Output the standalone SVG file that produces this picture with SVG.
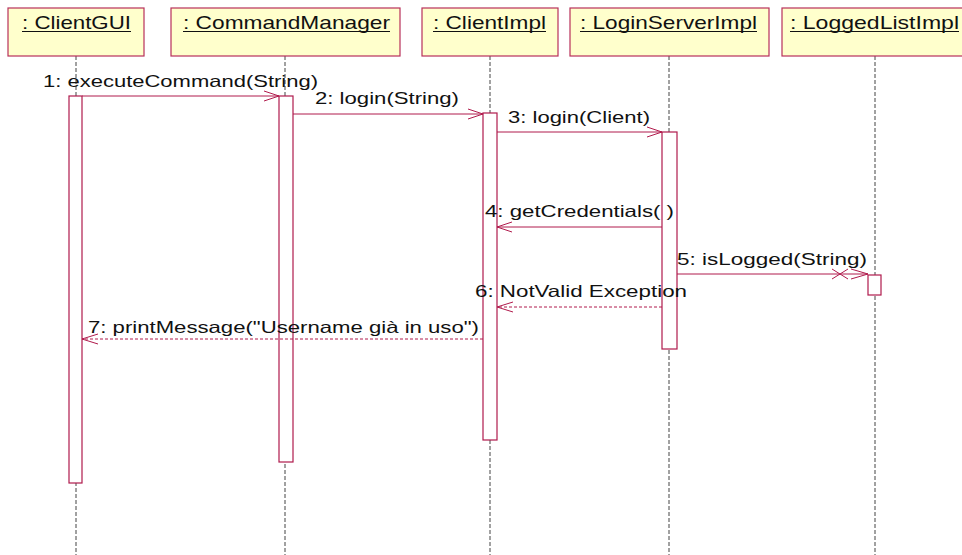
<svg xmlns="http://www.w3.org/2000/svg" width="962" height="555" viewBox="0 0 962 555">
  <style>
    .obj { fill: #FFFFCC; stroke: #B8305A; stroke-width: 1.2; }
    .oname { font-family: "Liberation Sans", Arial, sans-serif; font-size: 19px; fill: #111; }
    .uline { stroke: #111; stroke-width: 1; }
    .life { stroke: #444; stroke-width: 1; stroke-dasharray: 4 2; fill: none; }
    .act { fill: #FFFFFF; stroke: #B01A4C; stroke-width: 1.2; }
    .msg { stroke: #B01A4C; stroke-width: 1; fill: none; }
    .ret { stroke: #B01A4C; stroke-width: 1; fill: none; stroke-dasharray: 3 2; }
    .head { stroke: #B01A4C; stroke-width: 1; fill: none; }
    .mlabel { font-family: "Liberation Sans", Arial, sans-serif; font-size: 16.5px; fill: #111; }
  </style>

  <!-- lifelines -->
  <g id="lifelines">
    <line class="life" x1="76" y1="56" x2="76" y2="555"/>
    <line class="life" x1="285" y1="56" x2="285" y2="555"/>
    <line class="life" x1="490" y1="56" x2="490" y2="555"/>
    <line class="life" x1="669" y1="56" x2="669" y2="555"/>
    <line class="life" x1="875" y1="56" x2="875" y2="555"/>
  </g>

  <!-- objects -->
  <g id="clientgui">
    <rect class="obj" x="8" y="8" width="136" height="48"/>
    <text class="oname" x="22" y="29" textLength="109" lengthAdjust="spacingAndGlyphs">: ClientGUI</text>
    <line class="uline" x1="22" y1="31.5" x2="131" y2="31.5"/>
    <rect class="act" x="69" y="96" width="13" height="387"/>
  </g>
  <g id="commandmanager">
    <rect class="obj" x="171" y="8" width="229" height="48"/>
    <text class="oname" x="183" y="29" textLength="207" lengthAdjust="spacingAndGlyphs">: CommandManager</text>
    <line class="uline" x1="183" y1="31.5" x2="390" y2="31.5"/>
    <rect class="act" x="279" y="96" width="14" height="366"/>
  </g>
  <g id="clientimpl">
    <rect class="obj" x="422" y="8" width="136" height="48"/>
    <text class="oname" x="433" y="29" textLength="113" lengthAdjust="spacingAndGlyphs">: ClientImpl</text>
    <line class="uline" x1="433" y1="31.5" x2="546" y2="31.5"/>
    <rect class="act" x="483" y="113" width="14" height="327"/>
  </g>
  <g id="loginserverimpl">
    <rect class="obj" x="570" y="8" width="199" height="48"/>
    <text class="oname" x="580" y="29" textLength="177" lengthAdjust="spacingAndGlyphs">: LoginServerImpl</text>
    <line class="uline" x1="580" y1="31.5" x2="757" y2="31.5"/>
    <rect class="act" x="662" y="132" width="15" height="217"/>
  </g>
  <g id="loggedlistimpl">
    <rect class="obj" x="782" y="8" width="185" height="48"/>
    <text class="oname" x="790" y="29" textLength="169" lengthAdjust="spacingAndGlyphs">: LoggedListImpl</text>
    <line class="uline" x1="790" y1="31.5" x2="959" y2="31.5"/>
    <rect class="act" x="868" y="275" width="13" height="20"/>
  </g>

  <!-- messages -->
  <g id="connectors">
    <!-- 1 -->
    <line class="msg" x1="82" y1="96" x2="279" y2="96"/>
    <polyline class="head" points="264,91 279,96 264,101"/>
    <text class="mlabel" x="43" y="87" textLength="275" lengthAdjust="spacingAndGlyphs">1: executeCommand(String)</text>
    <!-- 2 -->
    <line class="msg" x1="293" y1="114" x2="483" y2="114"/>
    <polyline class="head" points="468,109 483,114 468,119"/>
    <text class="mlabel" x="315" y="104" textLength="144" lengthAdjust="spacingAndGlyphs">2: login(String)</text>
    <!-- 3 -->
    <line class="msg" x1="497" y1="132" x2="662" y2="132"/>
    <polyline class="head" points="647,127 662,132 647,137"/>
    <text class="mlabel" x="508" y="123" textLength="142" lengthAdjust="spacingAndGlyphs">3: login(Client)</text>
    <!-- 4 -->
    <line class="msg" x1="662" y1="227" x2="497" y2="227"/>
    <polyline class="head" points="512,222 497,227 512,232"/>
    <text class="mlabel" x="485" y="217" textLength="189" lengthAdjust="spacingAndGlyphs">4: getCredentials( )</text>
    <!-- 5 -->
    <line class="msg" x1="677" y1="274" x2="868" y2="274"/>
    <polyline class="head" points="851,269 868,274 851,279"/>
    <line class="head" x1="832" y1="269" x2="848" y2="279"/>
    <line class="head" x1="832" y1="279" x2="848" y2="269"/>
    <text class="mlabel" x="677" y="265" textLength="190" lengthAdjust="spacingAndGlyphs">5: isLogged(String)</text>
    <!-- 6 -->
    <line class="ret" x1="662" y1="307" x2="497" y2="307"/>
    <polyline class="head" points="513,302 497,307 513,312"/>
    <text class="mlabel" x="475" y="297" textLength="212" lengthAdjust="spacingAndGlyphs">6: NotValid Exception</text>
    <!-- 7 -->
    <line class="ret" x1="483" y1="339" x2="82" y2="339"/>
    <polyline class="head" points="98,334 82,339 98,344"/>
    <text class="mlabel" x="88" y="333" textLength="391" lengthAdjust="spacingAndGlyphs">7: printMessage("Username già in uso")</text>
  </g>
</svg>
